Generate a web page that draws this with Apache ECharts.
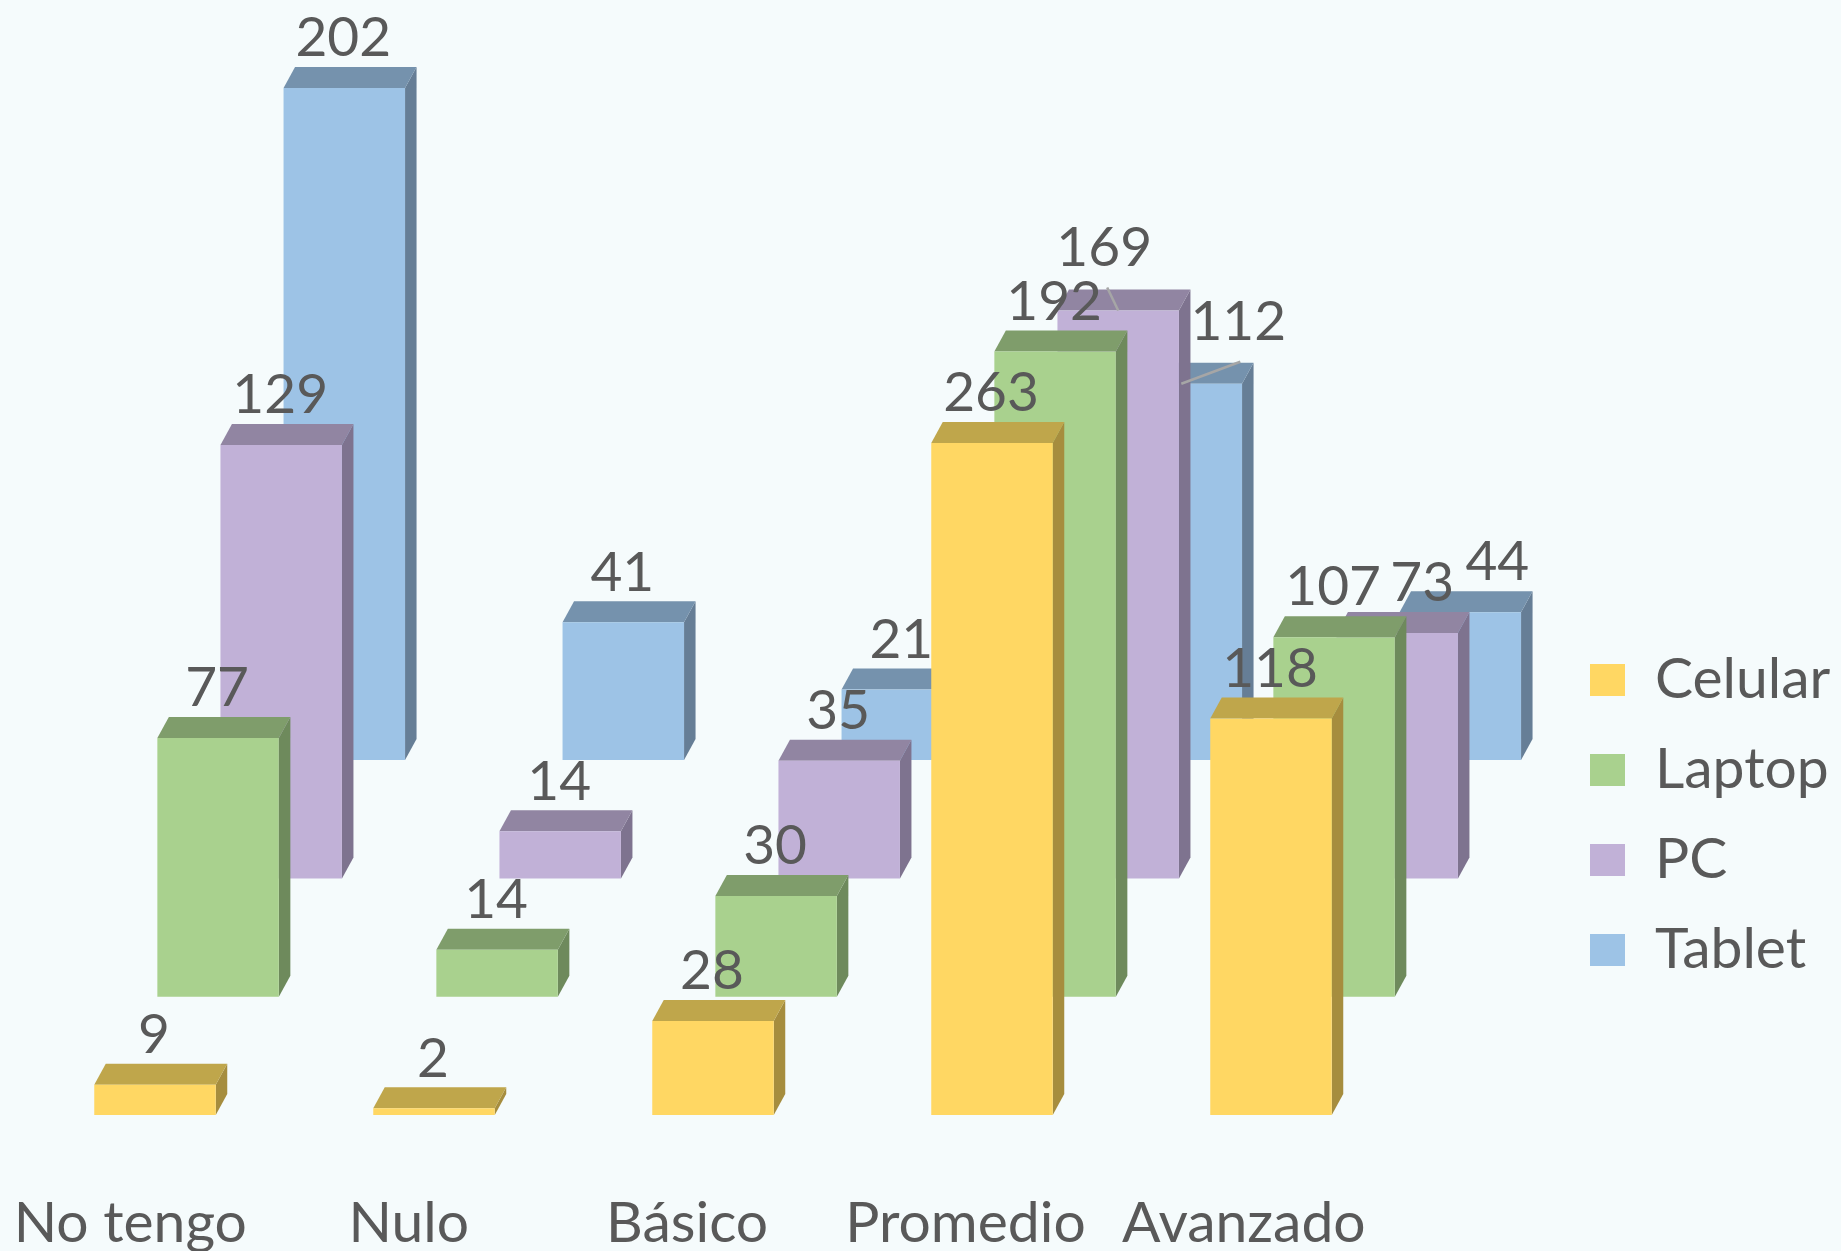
<!DOCTYPE html>
<html>
<head>
<meta charset="utf-8">
<style>html,body{margin:0;padding:0;background:#F5FBFC}#c{width:1841px;height:1251px}</style>
<script src="https://cdn.jsdelivr.net/npm/echarts@6/dist/echarts.min.js"></script>
</head>
<body>
<div id="c"></div>
<script>
const categories = ['No tengo', 'Nulo', 'Básico', 'Promedio', 'Avanzado'];
const seriesNames = ['Celular', 'Laptop', 'PC', 'Tablet'];
const celular = [9, 2, 28, 263, 118];
const laptop = [77, 14, 30, 192, 107];
const pc = [129, 14, 35, 169, 73];
const tablet = [202, 41, 21, 112, 44];
const axisMax = 200; // the value axis is cut at 200, taller bars are clipped

const values = [celular, laptop, pc, tablet];
const palette = [
  { front: '#FFD763', top: '#BFA64B', side: '#A68D3E' },
  { front: '#A9D18E', top: '#7F9D6B', side: '#6E8A5C' },
  { front: '#C1B1D7', top: '#9185A2', side: '#7E738F' },
  { front: '#9DC3E6', top: '#7592AD', side: '#667E96' }
];
// series index - category index -> label shift [dx, dy, hasLeader]
const labelShift = {
  '2-3': [-13, -13, true],
  '3-3': [58, -12, true],
  '2-4': [26, 0, false],
  '3-4': [38, 0, false]
};

const GRID = { left: 15.5, top: 443, width: 1395, height: 672, stepX: 63.1, stepY: 118.3 };
const BAR_RATIO = 121.5 / 279;
const DEPTH_X = 11.5, DEPTH_Y = 21;
const TEXT = '#595959';
const FONT = 'Lato';

function barItem(s) {
  return function (params, api) {
    const i = api.value(0);
    const v = Math.min(api.value(1), axisMax);
    const base = api.coord([i, 0]);
    const head = api.coord([i, v]);
    const w = api.size([1, 0])[0] * BAR_RATIO;
    const x0 = base[0] - w / 2, x1 = base[0] + w / 2;
    const y0 = base[1], y1 = head[1];
    const c = palette[s];
    return {
      type: 'group',
      children: [
        { type: 'polygon', shape: { points: [[x1, y0], [x1 + DEPTH_X, y0 - DEPTH_Y], [x1 + DEPTH_X, y1 - DEPTH_Y], [x1, y1]] }, style: { fill: c.side } },
        { type: 'polygon', shape: { points: [[x0, y1], [x0 + DEPTH_X, y1 - DEPTH_Y], [x1 + DEPTH_X, y1 - DEPTH_Y], [x1, y1]] }, style: { fill: c.top } },
        { type: 'rect', shape: { x: x0, y: y1, width: w, height: y0 - y1 }, style: { fill: c.front } }
      ]
    };
  };
}

function labelItem(s) {
  return function (params, api) {
    const i = api.value(0);
    const raw = api.value(1);
    const v = Math.min(raw, axisMax);
    const head = api.coord([i, v]);
    const shift = labelShift[s + '-' + i] || [0, 0, false];
    const tx = head[0] + shift[0] - 1;
    const ty = head[1] - DEPTH_Y - 1 + shift[1];
    const children = [];
    if (shift[2]) {
      const leadY = s === 2 ? -23 : -22;
      const leadX = s === 2 ? -11 : 59;
      children.push({ type: 'line', shape: { x1: head[0], y1: head[1], x2: head[0] + leadX, y2: head[1] + leadY }, style: { stroke: '#A6A6A6', lineWidth: 2.5 } });
    }
    children.push({
      type: 'text',
      style: { text: String(raw), x: tx, y: ty, textAlign: 'center', textVerticalAlign: 'bottom', fill: TEXT, fontFamily: FONT, fontSize: 55 }
    });
    return { type: 'group', children };
  };
}

const grids = [], xAxes = [], yAxes = [], series = [];
seriesNames.forEach((name, s) => {
  grids.push({ left: GRID.left + GRID.stepX * s, top: GRID.top - GRID.stepY * s, width: GRID.width, height: GRID.height, outerBoundsMode: 'none' });
  xAxes.push({ type: 'category', gridIndex: s, data: categories, show: false });
  yAxes.push({ type: 'value', gridIndex: s, min: 0, max: axisMax, show: false });
  series.push({
    name, type: 'custom', xAxisIndex: s, yAxisIndex: s, z: 5 - s, clip: false,
    itemStyle: { color: palette[s].front },
    renderItem: barItem(s),
    data: values[s].map((v, i) => [i, v]),
    encode: { x: 0, y: 1 }
  });
  series.push({
    name: name + ' etiquetas', type: 'custom', xAxisIndex: s, yAxisIndex: s, z: 20, clip: false,
    silent: true,
    renderItem: labelItem(s),
    data: values[s].map((v, i) => [i, v]),
    encode: { x: 0, y: 1 }
  });
});
// category labels sit a little to the left of the front row of bars
grids.push({ left: -8.9, top: GRID.top, width: 1392, height: GRID.height, outerBoundsMode: 'none' });
xAxes.push({
  type: 'category', gridIndex: 4, data: categories,
  axisLine: { show: false }, axisTick: { show: false },
  axisLabel: { interval: 0, margin: 80, color: TEXT, fontFamily: FONT, fontSize: 57 }
});
yAxes.push({ type: 'value', gridIndex: 4, min: 0, max: axisMax, show: false });

const chart = echarts.init(document.getElementById('c'), null, { renderer: 'canvas' });
chart.setOption({
  animation: false,
  backgroundColor: '#F5FBFC',
  grid: grids,
  xAxis: xAxes,
  yAxis: yAxes,
  legend: {
    data: seriesNames,
    orient: 'vertical',
    left: 1585,
    top: 645,
    icon: 'rect',
    itemWidth: 35,
    itemHeight: 32,
    itemGap: 30,
    selectedMode: false,
    textStyle: { color: TEXT, fontFamily: FONT, fontSize: 57, lineHeight: 60, padding: [0, 0, 0, 25] }
  },
  series
});
</script>
</body>
</html>
